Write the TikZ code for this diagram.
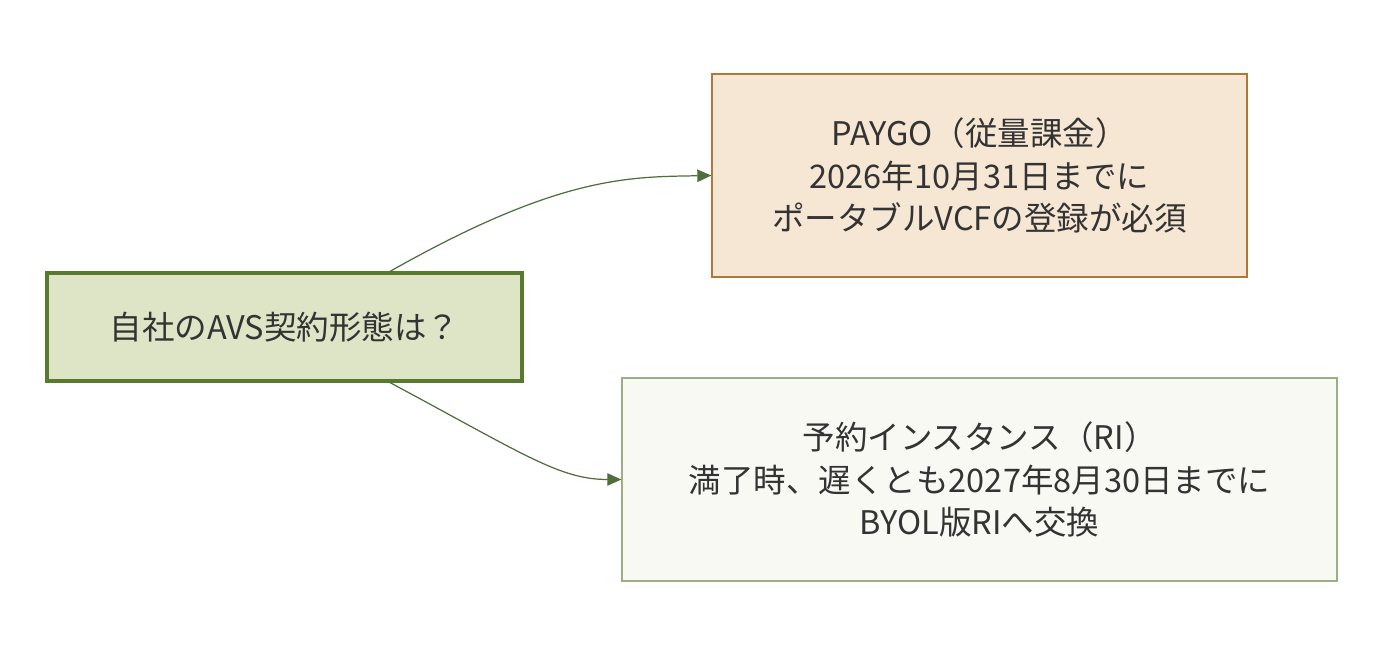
\documentclass[tikz,border=0pt]{standalone}
\usepackage{fontspec}
\setmainfont{Noto Sans CJK JP}
\usetikzlibrary{arrows.meta}
\definecolor{qfill}{HTML}{DDE5C6}
\definecolor{qdraw}{HTML}{577A2E}
\definecolor{pfill}{HTML}{F6E6D4}
\definecolor{pdraw}{HTML}{B0763A}
\definecolor{rfill}{HTML}{F8F9F2}
\definecolor{rdraw}{HTML}{9BAE84}
\definecolor{edgec}{HTML}{4E6E3C}
\definecolor{txt}{HTML}{333333}

\begin{document}
\begin{tikzpicture}[box/.style={draw,align=center,text=txt,
      font=\fontsize{18.5}{24}\selectfont,inner sep=0pt},
    link/.style={draw=edgec,line width=0.7pt,-{Triangle[length=8pt,width=7pt]}}]
  \useasboundingbox (0,0) rectangle (27.72,-13.2);
  \node[box,fill=qfill,draw=qdraw,line width=1.8pt,minimum width=9.5cm,
    minimum height=2.16cm] (q) at (5.69,-6.54) {自社のAVS契約形態は？};
  \node[box,fill=pfill,draw=pdraw,line width=0.7pt,minimum width=10.7cm,
    minimum height=4.06cm] (p) at (19.59,-3.51)
    {PAYGO（従量課金）\\2026年10月31日までに\\ポータブルVCFの登録が必須};
  \node[box,fill=rfill,draw=rdraw,line width=0.7pt,minimum width=14.3cm,
    minimum height=4.06cm] (r) at (19.59,-9.59)
    {予約インスタンス（RI）\\満了時、遅くとも2027年8月30日までに\\BYOL版RIへ交換};

  \coordinate (qt) at ([xshift=2.11cm]q.north);
  \coordinate (qb) at ([xshift=2.11cm]q.south);
  \draw[link] (qt) .. controls (11.2,-3.5) and (12.6,-3.54) .. (p.west);
  \draw[link] (qb) .. controls (10.5,-9.1) and (11.2,-9.59) .. (r.west);
\end{tikzpicture}
\end{document}
